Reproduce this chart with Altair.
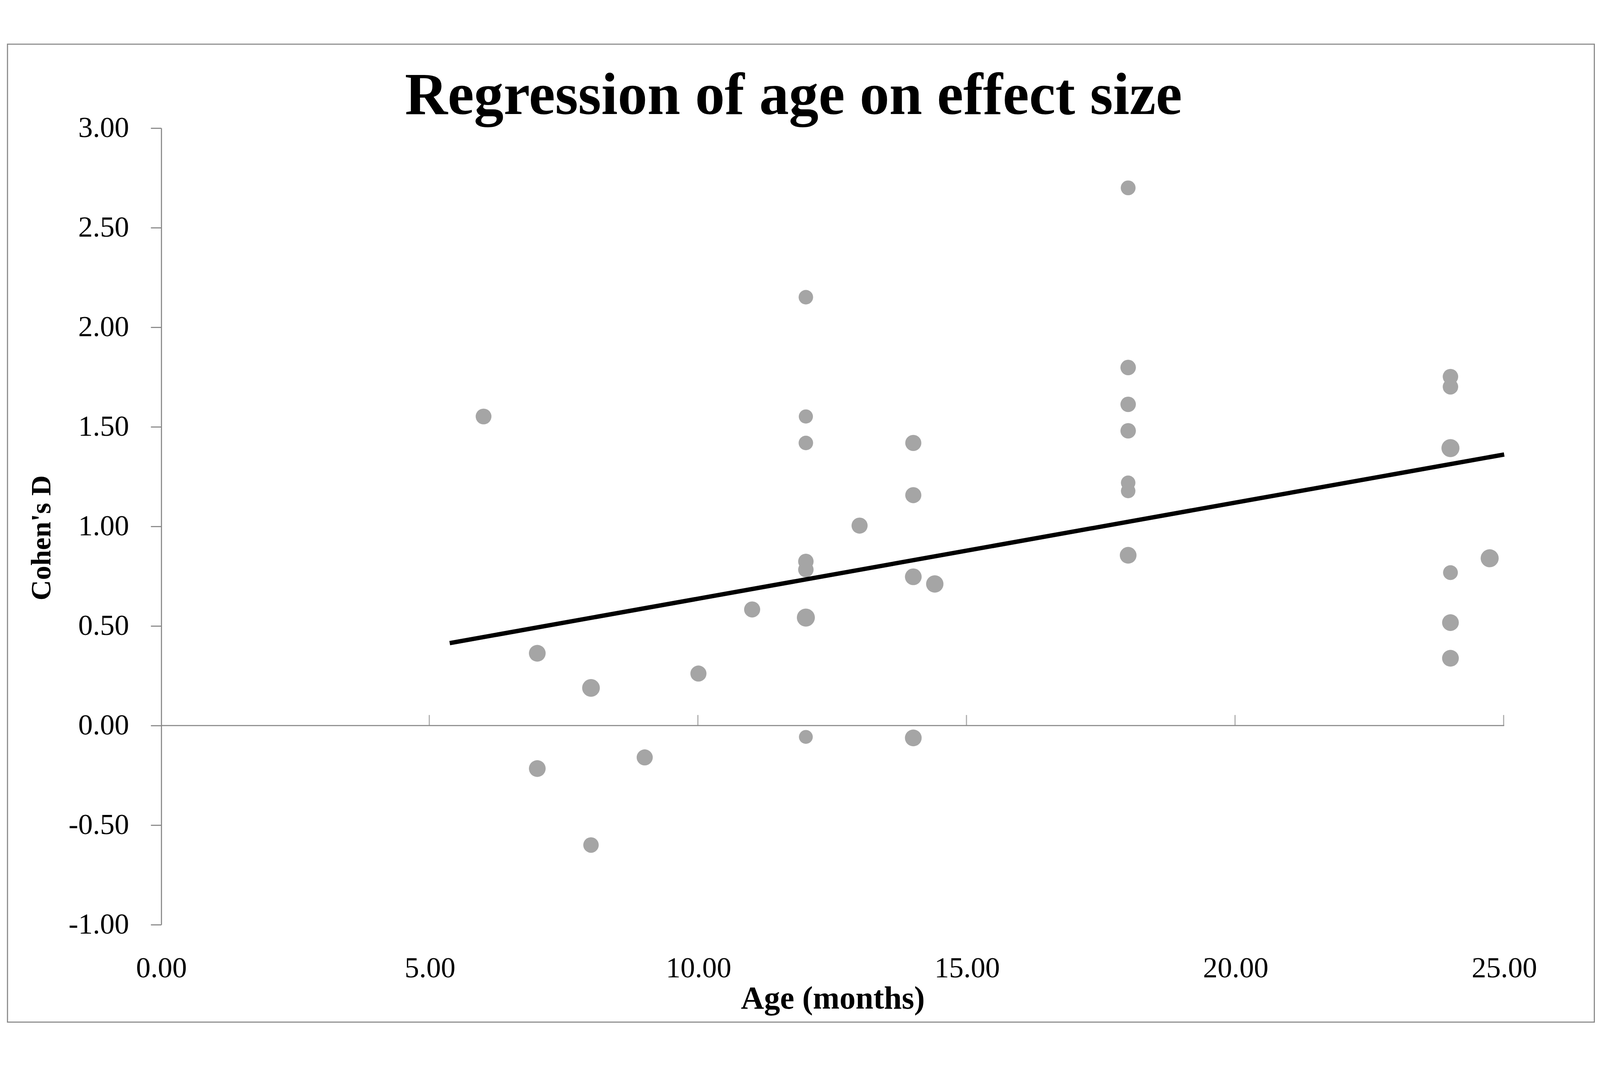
import altair as alt
import pandas as pd

# ---- data ----
age = [6, 7, 7, 8, 8, 9, 10, 11,
       12, 12, 12, 12, 12, 12, 12,
       13, 14, 14, 14, 14, 14.4,
       18, 18, 18, 18, 18, 18, 18,
       24, 24, 24, 24, 24, 24, 24.73]
cohens_d = [1.552, 0.363, -0.216, 0.189, -0.600, -0.160, 0.261, 0.583,
            2.151, 1.552, 1.419, 0.824, 0.783, 0.542, -0.057,
            1.004, 1.419, 1.157, 0.747, -0.062, 0.711,
            2.700, 1.798, 1.613, 1.480, 1.219, 1.178, 0.855,
            1.752, 1.701, 1.393, 0.768, 0.517, 0.338, 0.840]
weight = [49, 52, 52, 55, 48, 50, 50, 50,
          45, 44, 45, 48, 48, 56, 43,
          50, 50, 50, 52, 52, 54,
          46, 48, 48, 48, 45, 45, 52,
          48, 48, 56, 46, 52, 52, 56]

line_age = [5.37, 25.0]
line_d = [0.414, 1.361]

x_ticks = [0, 5, 10, 15, 20, 25]
y_ticks = [-1.0, -0.5, 0.0, 0.5, 1.0, 1.5, 2.0, 2.5, 3.0]

title_text = "Regression of age on effect size"
x_title = "Age (months)"
y_title = "Cohen's D"

# ---- styling ----
FONT = "Liberation Serif"
GRAY = "#878787"
PT = "#A5A5A5"

pts = pd.DataFrame({"age": age, "d": cohens_d, "w": weight})
line_df = pd.DataFrame({"age": line_age, "d": line_d})
tick_df = pd.DataFrame({"t": x_ticks[1:]})
one = pd.DataFrame({"a": [0]})
title_df = pd.DataFrame({"label": [title_text]})

xs = alt.Scale(domain=[x_ticks[0], x_ticks[-1]], nice=False, zero=False)
ys = alt.Scale(domain=[y_ticks[0], y_ticks[-1]], nice=False, zero=False)

lab_expr = "datum.value < 0 ? '-' + format(-datum.value, '.2f') : format(datum.value, '.2f')"

x_axis = alt.Axis(values=x_ticks, format=".2f", domain=False, ticks=False, tickSize=0,
                  grid=False, labelFont=FONT, labelFontSize=80, labelColor="black",
                  labelPadding=144, labelBaseline="alphabetic", labelFlush=False,
                  labelOverlap=False, labelLimit=0, title=x_title, titleFont=FONT,
                  titleFontSize=88, titleFontWeight="bold", titleColor="black",
                  titleY=230, titleBaseline="alphabetic", titleLimit=0)
y_axis = alt.Axis(values=y_ticks, labelExpr=lab_expr, domain=True, domainColor=GRAY,
                  domainWidth=3, ticks=True, tickColor=GRAY, tickWidth=3, tickSize=29,
                  grid=False, labelFont=FONT, labelFontSize=80, labelColor="black",
                  labelPadding=60, labelOverlap=False, labelFlush=False, labelLimit=0,
                  title=y_title, titleFont=FONT, titleFontSize=78, titleFontWeight="bold",
                  titleColor="black", titleX=-306, titleY=1127, titleBaseline="alphabetic",
                  titleLimit=0)

frame = alt.Chart(one).mark_rect(fillOpacity=0, stroke=GRAY, strokeWidth=3).encode(
    x=alt.value(-423), x2=alt.value(3942), y=alt.value(-231), y2=alt.value(2460))

title_mark = alt.Chart(title_df).mark_text(font=FONT, fontSize=163, fontWeight="bold",
                                           color="black", align="center",
                                           baseline="alphabetic").encode(
    text="label:N", x=alt.value(1739), y=alt.value(-39))

zero_rule = alt.Chart(one).mark_rule(color=GRAY, strokeWidth=3).encode(
    x=alt.datum(x_ticks[0], scale=xs), x2=alt.datum(x_ticks[-1]), y=alt.datum(0, scale=ys))

zero_ticks = alt.Chart(tick_df).mark_tick(orient="vertical", size=29, thickness=3,
                                          yOffset=-14.5, xOffset=-1.5, color=GRAY).encode(
    x=alt.X("t:Q", scale=xs), y=alt.datum(0))

points = alt.Chart(pts).mark_circle(color=PT, opacity=1).encode(
    x=alt.X("age:Q", scale=xs, axis=x_axis),
    y=alt.Y("d:Q", scale=ys, axis=y_axis),
    size=alt.Size("w:Q", scale=alt.Scale(type="pow", exponent=2, domain=[0, 60], range=[0, 2827]),
                  legend=None),
)

reg = alt.Chart(line_df).mark_line(color="black", strokeWidth=12).encode(
    x=alt.X("age:Q", scale=xs), y=alt.Y("d:Q", scale=ys))

chart = alt.layer(frame, title_mark, zero_rule, zero_ticks, points, reg).properties(
    width=3694, height=2192,
    padding={"left": 10, "top": 10, "right": 5, "bottom": 5},
    autosize=alt.AutoSizeParams(type="pad"),
    background="white",
).configure_view(strokeWidth=0)

chart.save("out.html", embed_options={"renderer": "svg", "actions": False})
